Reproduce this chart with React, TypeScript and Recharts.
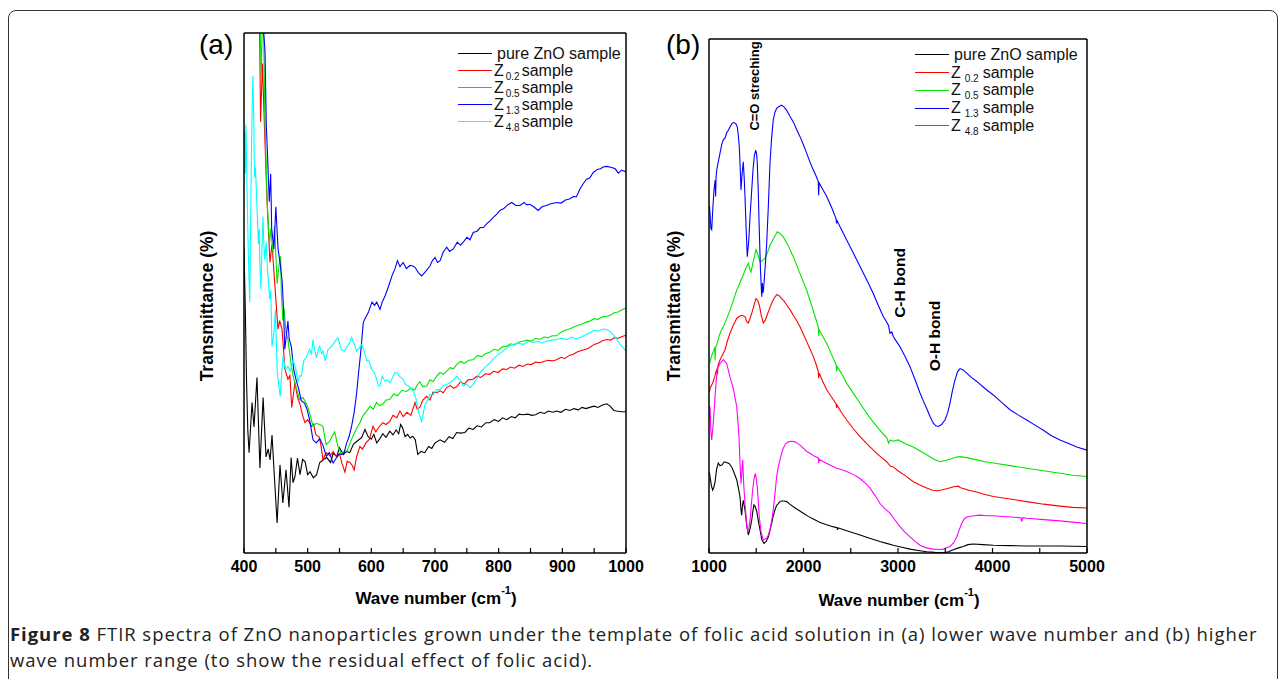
import { LineChart, Line, XAxis, YAxis } from 'recharts';

type Pt = [number, number];

// tick positions (wave number in cm-1, transmittance in arbitrary units)
const waveTicksA = [400, 450, 500, 550, 600, 650, 700, 750, 800, 850, 900, 950, 1000];
const waveTicksB = [1000, 1500, 2000, 2500, 3000, 3500, 4000, 4500, 5000];
const transTicks = [0, 10, 20, 30, 40, 50, 60, 70, 80];

// ---- panel (a): 400-1000 cm-1 ----
const pureA: Pt[] = [
  [400, 50], [402, 40], [404, 28], [406, 20], [408, 16.4], [412.6, 24.6], [415.7, 20.6], [420.4, 28.7], [425, 13.9],
  [430, 25.4], [434.6, 15.7], [438, 17], [441, 15.2], [444, 19.3], [448, 12], [452, 4.9], [456.5, 14.4], [461, 8.2],
  [466, 13.6], [470.7, 7.5], [474, 15.6], [477, 11.5], [480, 12.5], [484, 15.5], [488, 12.8], [492, 15.3], [496, 14.9],
  [500, 12.8], [503.7, 13.3], [509, 12.3], [514, 12.8], [519, 14.8], [524, 15.2], [530, 15.6], [536, 14.8], [540, 16.3],
  [545.6, 15.8], [550, 17.2], [556, 16.1], [561, 16.6], [566, 16.4], [572, 17.8], [578, 18.3], [585, 18.9], [590, 20.2],
  [595, 19], [600, 18.6], [604, 19.4], [608.4, 18], [613, 18.6], [618, 19.5], [623, 18.9], [629, 19.9], [634, 19.3],
  [639, 20.1], [643, 19.5], [646, 21], [649, 20.5], [653, 19], [657, 19.4], [661, 18.8], [665, 19.1], [669, 18.5],
  [673, 16.1], [678, 16.6], [684, 16.4], [690, 17.4], [695, 17.1], [700, 18], [708, 18.5], [715, 18.1], [722, 19],
  [728, 18.7], [734, 19.7], [740, 19.6], [747, 19.7], [753, 20.4], [760, 20.2], [766, 20.8], [773, 20.6], [780, 21.3],
  [786, 21.3], [793, 21.8], [800, 21.5], [806, 22.1], [812.6, 21.8], [820, 22.3], [826, 22.1], [832, 22.7], [838, 22.6],
  [846, 22.7], [852, 22.5], [858, 22.6], [865, 23], [872, 22.8], [878, 23.2], [885, 23], [891, 23.2], [898, 23],
  [905, 23.5], [912, 23.3], [918, 23.6], [925, 23.4], [931, 23.8], [937, 23.6], [943, 23.8], [950, 24], [956, 23.8],
  [963, 24.2], [969.6, 24.4], [975, 24], [981, 23.3], [985, 23.2], [992, 23.1], [1000, 23.1],
];

const z02A: Pt[] = [
  [415, 95], [424.6, 85], [426, 70.5], [429, 80], [432, 70], [436, 58], [440.8, 47.5], [444, 50.5], [447, 46],
  [450, 41.5], [453.4, 36.6], [456, 38], [459.7, 36.6], [464.4, 30], [469, 28.4], [472, 29], [475, 23.8], [480, 27.9],
  [484, 25.5], [488, 24.3], [492, 22.5], [495.8, 21.3], [500, 21.8], [506, 20.7], [509, 21.1], [513, 19.3], [518, 19],
  [521, 17.5], [524, 15.2], [529, 16.4], [535, 15.9], [540, 16.6], [545.6, 15.7], [550, 16.2], [554, 14.6], [558.6, 13.2],
  [562, 15], [566.5, 14.8], [570, 14.3], [573, 13.6], [577, 15.8], [582, 17.4], [586, 17], [591.6, 18], [597, 18.6],
  [602.6, 20.7], [607, 19.8], [612, 20.6], [618, 21.3], [623, 21], [629, 21.5], [634, 22.5], [640, 22.1], [645, 23.2],
  [650, 22.3], [656, 23], [662, 22.5], [668.6, 24.6], [672, 23.5], [676, 23.8], [681, 25], [687, 25.6], [692, 25],
  [697, 26.3], [703, 26.2], [708, 26.5], [713, 26.2], [718, 27], [724, 27.4], [729, 26.9], [734.5, 27.2], [740, 28],
  [746, 27.6], [752, 28.3], [759.7, 28.4], [766, 28.9], [772, 28.7], [779, 29.3], [786, 29.2], [792, 29.7], [799, 29.5],
  [806, 30.1], [812.6, 30], [819, 30.4], [825, 30.2], [832, 30.7], [838, 30.5], [845, 30.9], [851, 30.8], [858, 31.2],
  [865, 31.1], [871, 31.3], [878, 31.5], [884, 31.4], [891, 31.6], [898, 32], [904, 31.8], [911, 32.3], [917, 32.5],
  [924, 32.9], [930, 33.1], [937, 33.3], [943, 33.6], [950, 34.1], [956, 34.3], [963, 34.7], [969.6, 34.9], [976, 34.8],
  [982, 35.2], [988, 35.1], [994, 35.4], [1000, 35.6],
];

const z05A: Pt[] = [
  [418, 95], [422, 85], [425, 88], [427, 78], [429, 88], [431, 84], [433, 70], [436.6, 57], [440, 50.5], [442, 53],
  [445.5, 49], [448, 53.4], [452, 44], [455, 47], [457.6, 48.5], [458.6, 42.6], [461, 38], [463, 40], [466, 36],
  [469, 34.9], [474.3, 30.5], [478, 28.5], [482, 27], [487.4, 25.1], [492.7, 25.4], [496, 24.8], [500.5, 23.8], [504, 22.5],
  [508.4, 20.7], [513, 21.2], [518.9, 21], [524, 20.7], [529, 17.7], [534, 18.2], [538, 19], [542.4, 19.8], [547.6, 17.4],
  [553.4, 16.1], [557, 16.6], [562, 16.7], [566, 17.8], [571, 19.1], [576, 20.2], [582, 21.3], [587, 22.5], [592, 23.1],
  [598, 24], [603, 23.5], [608, 24.6], [613, 24.1], [618, 24.3], [623, 25], [629, 25.1], [635, 26], [641, 25.7],
  [648, 26.6], [655.5, 26.4], [662, 27], [668, 26.6], [671, 27.3], [676, 28], [681, 27.2], [687, 27.3], [692, 28.3],
  [697, 28], [702.6, 28.9], [708, 29.5], [713, 29.2], [718, 29.7], [724, 30.3], [729, 30.1], [734, 30.8], [740, 31.3],
  [746, 31], [753, 31.5], [760, 31.6], [767, 32.3], [773, 32.1], [780, 32.6], [786, 32.8], [793, 33.3], [799, 33.1],
  [806, 33.7], [812.6, 33.8], [819, 34.2], [825, 34], [832, 34.5], [838, 34.6], [845, 34.8], [851, 34.6], [858, 35.1],
  [865, 34.9], [871, 35.3], [878, 35.2], [884, 35.5], [891, 35.5], [898, 36.1], [904, 36.4], [911, 36.6], [917, 36.9],
  [924, 37.2], [930, 37.4], [937, 37.7], [943, 37.9], [950, 38.3], [956, 38.2], [963, 38.6], [969.6, 38.7], [976, 38.9],
  [982, 39.3], [988, 39.4], [994, 39.8], [1000, 40],
];

const z13A: Pt[] = [
  [426, 95], [431, 85], [433, 82], [435, 70], [437, 65], [439.7, 57.4], [441.9, 62], [443.5, 53], [447, 49.7],
  [450, 56.6], [453.5, 49.7], [457, 47.2], [460, 44.3], [462, 40], [464, 33.3], [467, 36], [469, 37.9], [471, 35],
  [474.4, 33.7], [478, 30], [482, 28.2], [486, 26.8], [490, 24.9], [495, 24.5], [499, 23.5], [503, 21.8], [508.4, 18.5],
  [513.6, 18], [519, 18.7], [524, 17.6], [529.3, 15.8], [534, 16.4], [540, 14.7], [545.4, 15.6], [550, 16.2], [553.4, 16.1],
  [557, 16.3], [561.3, 18], [565, 19], [569, 20.7], [573, 23], [577, 26.2], [580, 29.5], [583.3, 32.8], [587.4, 37.7],
  [591, 38.5], [595.2, 39.3], [601, 41], [605, 40.5], [608.4, 41], [613.6, 39.8], [617, 41], [621.5, 42], [625, 43],
  [629.3, 44.3], [633, 45.5], [637, 46.4], [641, 47.8], [645, 46.8], [650, 47.5], [655, 46.5], [660.7, 47], [665, 46.9],
  [668.6, 46.7], [674, 45.8], [679, 45.3], [685, 46], [692, 46.9], [696, 47.8], [700, 48.3], [704, 47.5], [708, 47.8],
  [713, 49.2], [718.4, 50], [723, 49.3], [728.7, 49.7], [735, 50.8], [740, 50.3], [744.4, 50.8], [750, 51.6], [755, 51.2],
  [760, 52.4], [766, 52.6], [771, 53.2], [776, 53.2], [781, 53.8], [786.4, 54.3], [792, 54.9], [797, 55.4], [802, 56],
  [808, 56.3], [814, 56.9], [820.5, 57.3], [827, 56.8], [833.5, 56.8], [840, 57.3], [844, 56.9], [849, 57], [855, 56.6],
  [862, 56], [868, 56.6], [875, 56.8], [882, 57.1], [891, 57.3], [898, 57.2], [905, 57.7], [912, 57.9], [918, 58.3],
  [922, 58.2], [927.7, 59.5], [933, 60.4], [938, 61.1], [943, 61.3], [948.6, 62.2], [955, 62.7], [960, 62.8], [964, 63.1],
  [970, 63.2], [977.5, 63], [983, 62.8], [988, 62.1], [993, 62.6], [1000, 62.3],
];

const z48A: Pt[] = [
  [400, 62], [401, 69], [402, 62], [403, 70], [405, 58], [407, 48], [409, 41], [410.5, 55], [412, 68], [414, 78],
  [415.5, 70], [416.5, 61.4], [418, 63], [419, 60.3], [421, 55], [422.7, 50.5], [424, 53], [425, 47], [426.6, 43.1],
  [428, 49], [429.8, 55], [431, 51], [432.5, 48], [435, 50.8], [437, 46], [440.4, 41.5], [442, 43], [444, 33.8],
  [447, 36], [449.2, 39.8], [452.3, 29.5], [455, 27], [457, 25.6], [459, 29], [461.3, 32.2], [465, 30], [469, 30.5],
  [473, 29.8], [477, 31.6], [481, 30.2], [484.8, 27.9], [487, 29], [490, 28.9], [494, 31.5], [497.9, 32], [503, 33.3],
  [506, 32.5], [508.4, 34.9], [511, 33.2], [513.6, 31.9], [517, 33.3], [519, 33.8], [522, 32.6], [524, 33], [527.7, 31.4],
  [532, 33.3], [536, 33.6], [539.8, 34.1], [543, 34.6], [547.6, 35.2], [550, 34.3], [552.8, 33.3], [558, 33], [562, 33.8],
  [566, 34.3], [569, 35.2], [573, 34.2], [577, 33], [581, 33.5], [585, 34.1], [589, 32.9], [592.7, 31.4], [596, 31.5],
  [600.6, 30], [604, 29.6], [608.4, 28.4], [611, 27.3], [613.6, 27.3], [617, 28.9], [621.5, 28.1], [625, 28.3],
  [629.3, 27.8], [633, 28.6], [637, 29.5], [641, 29.4], [645, 28.8], [650, 28.4], [654, 27.5], [658, 27.3], [662, 27],
  [666, 26.4], [670, 25.3], [673.8, 23.2], [676, 22.4], [679, 21.5], [681, 22.5], [684.3, 24.3], [688, 24.9], [692, 25.9],
  [697, 25.8], [702.7, 26.7], [708, 26.7], [713, 27.4], [718.4, 27.5], [724, 27.9], [729, 28.3], [734, 28.9], [739, 28.3],
  [744.4, 27.3], [750, 27.6], [755, 27], [760, 27.5], [765, 28.4], [770.7, 29.5], [778, 30.3], [786.4, 31.1], [793, 31.9],
  [800, 32.5], [807, 33], [815, 33.7], [823, 34.1], [830, 34.3], [838.7, 34.1], [846, 34.6], [854.4, 34.4], [862, 34.6],
  [868, 34.3], [875.4, 34.6], [883, 34.8], [891, 34.9], [898, 35.1], [907, 34.9], [915, 35.3], [921, 35], [927.7, 35.2],
  [935, 35.6], [943.4, 36], [950, 36.4], [957, 36.3], [964.3, 36.6], [970, 36.5], [975, 36.2], [980, 35.7], [985, 35],
  [990, 34.2], [995, 33.6], [1000, 33],
];

// ---- panel (b): 1000-5000 cm-1 ----
const pureB: Pt[] = [
  [1005, 12.5], [1010.6, 11.9], [1025, 10.5], [1039, 9.8], [1050, 10.2], [1063.5, 11], [1080, 13], [1098, 14],
  [1115, 13.6], [1137.6, 13.7], [1160, 14.2], [1187, 14.1], [1215, 13.9], [1240, 13.4], [1265, 12.5], [1293, 11.4],
  [1310, 10.2], [1328, 8.8], [1338, 6.8], [1346, 5.9], [1355, 7.5], [1363, 8.2], [1372, 7.4], [1381, 6.7], [1398, 4.5],
  [1416, 2.8], [1435, 3.8], [1452, 5.1], [1465, 6.6], [1476, 7.5], [1490, 7.2], [1505, 6.5], [1522, 5], [1540, 3.6],
  [1560, 2], [1582, 1.5], [1605, 1.8], [1627.5, 2.5], [1645, 3.5], [1663.5, 4.6], [1680, 5.8], [1698, 6.7], [1715, 7.4],
  [1733, 7.7], [1750, 8], [1769, 8.1], [1795, 8.1], [1822, 8], [1855, 7.6], [1892, 7.2], [1945, 6.7], [1998, 6.2],
  [2050, 5.7], [2104, 5.3], [2170, 4.8], [2245, 4.4], [2310, 4.1], [2355, 3.95], [2360, 3.6], [2365, 3.9], [2386, 3.8],
  [2490, 3.3], [2598, 2.8], [2700, 2.3], [2809, 1.8], [2880, 1.5], [2950, 1.2], [3040, 0.9], [3127, 0.6], [3215, 0.4],
  [3304, 0.2], [3390, 0.1], [3479, 0.05], [3535, 0.2], [3585, 0.5], [3640, 0.8], [3691, 1], [3740, 1.3], [3797, 1.4],
  [3900, 1.3], [4008, 1.2], [4180, 1.15], [4362, 1.1], [4540, 1.1], [4714, 1.1], [4850, 1.05], [5000, 1],
];

const z02B: Pt[] = [
  [1005, 25], [1010.6, 25.6], [1040, 26.5], [1060, 27.4], [1075, 28.3], [1081.5, 28.5], [1090, 27.8], [1095, 29.2],
  [1110, 29.8], [1134, 30.6], [1169, 31.6], [1195, 33], [1222, 34.2], [1258, 35.5], [1293, 36.5], [1320, 36.8],
  [1346, 37], [1365, 36.9], [1381, 36.8], [1400, 36], [1416, 35.8], [1434, 36.5], [1452, 37.3], [1475, 38.5],
  [1497, 39.6], [1515, 39.3], [1532, 38.6], [1553, 37], [1574.6, 35.8], [1594, 36.2], [1614, 37], [1640, 38],
  [1663.5, 38.9], [1690, 39.7], [1716.4, 40.2], [1740, 40.1], [1769, 39.6], [1795, 39.2], [1822, 38.6], [1860, 37.8],
  [1892, 37], [1930, 36.1], [1963, 35.2], [2000, 34], [2034, 32.9], [2070, 31.7], [2103.7, 30.6], [2135, 29.3],
  [2156.6, 28.2], [2161, 27.2], [2167, 28], [2200, 26.8], [2245.5, 25.4], [2300, 24.2], [2345, 23.2], [2350, 22.6],
  [2356, 23], [2400, 21.9], [2457, 20.7], [2530, 19.3], [2598, 18.1], [2690, 16.7], [2774.6, 15.5], [2830, 14.8],
  [2880, 14.2], [2920, 13.5], [2950, 13.4], [3000, 12.8], [3080, 12], [3162, 11.1], [3230, 10.6], [3304, 10.1],
  [3360, 9.8], [3410, 9.7], [3460, 9.8], [3515, 10], [3590, 10.3], [3640, 10.4], [3656, 10.2], [3740, 9.8], [3833, 9.5],
  [3920, 9.1], [4008, 8.8], [4185, 8.4], [4362, 8], [4540, 7.6], [4714, 7.3], [4850, 7.1], [5000, 7],
];

const z05B: Pt[] = [
  [1005, 29.5], [1010.6, 29.8], [1030, 30.8], [1050, 31.5], [1060, 32], [1065, 30], [1068, 32], [1081.5, 32.4],
  [1100, 33.4], [1125, 34.5], [1151, 35.2], [1185, 36.4], [1222, 37.8], [1260, 39.4], [1293, 40.9], [1320, 41.8],
  [1339, 42.5], [1360, 43.2], [1381, 44], [1400, 44.6], [1416, 45.1], [1430, 44.3], [1444, 43.7], [1470, 45.5],
  [1497, 47.2], [1520, 46.3], [1540, 45.3], [1565, 45.5], [1592.6, 45.9], [1620, 46.8], [1645.5, 47.9], [1685, 49],
  [1722.8, 50], [1755, 49.7], [1786, 49.2], [1840, 47.8], [1892, 46.1], [1960, 43.6], [2034, 40.9], [2095, 38.1],
  [2156.6, 35.2], [2161, 33.8], [2167, 34.7], [2200, 33.8], [2245.5, 32.6], [2300, 30.8], [2345, 29.3], [2350, 28.3],
  [2356, 29], [2400, 28], [2457, 26.4], [2530, 24.8], [2598, 23.3], [2690, 21.3], [2774.6, 19.7], [2850, 18.4],
  [2880, 18], [2900, 17.1], [2915, 17.6], [2950, 17.4], [3000, 17.6], [3080, 17], [3162, 16.5], [3230, 15.9],
  [3304, 15.3], [3380, 14.6], [3444, 14.2], [3500, 14.4], [3550, 14.6], [3610, 14.9], [3656, 15], [3740, 14.8],
  [3833, 14.5], [3920, 14.2], [4008, 14], [4185, 13.6], [4362, 13.2], [4540, 12.8], [4714, 12.4], [4850, 12.1], [5000, 11.9],
];

const z13B: Pt[] = [
  [1005, 54], [1010.6, 52.9], [1020, 50.5], [1028.6, 50.3], [1040, 53.5], [1053, 56.5], [1065, 58], [1070, 55.5],
  [1075, 58.5], [1081.5, 59.6], [1100, 61], [1116, 62.2], [1135, 63.6], [1151, 64.3], [1170, 64.6], [1187, 65.4],
  [1205, 65.8], [1222, 66.3], [1245, 66.9], [1264.5, 67], [1285, 66.8], [1299.5, 66.3], [1310, 65], [1320.6, 63.2],
  [1330, 60], [1338.6, 56.5], [1350, 59], [1363, 60.9], [1372, 58.5], [1381, 55.5], [1393, 50.5], [1405, 46.1],
  [1420, 48.5], [1434, 52.3], [1450, 56], [1465.6, 59.6], [1480, 61.8], [1494, 62.7], [1503, 62.2], [1511, 60.7],
  [1522, 56], [1532, 50.3], [1545, 44], [1557.7, 39.9], [1565, 42], [1570, 40.5], [1576.7, 40.9], [1592, 44],
  [1610.6, 48.2], [1628, 54], [1645.5, 60.7], [1662, 64.5], [1680, 67.4], [1698, 68.6], [1716, 69.2], [1740, 69.5],
  [1769, 69.7], [1795, 69.4], [1822, 68.9], [1855, 68], [1892, 67.1], [1925, 66], [1963, 64.8], [2000, 63.5],
  [2034, 62.2], [2070, 60.8], [2103.7, 59.6], [2130, 58.8], [2156.6, 57.8], [2160, 55.7], [2166, 57.6], [2200, 56.7],
  [2245.5, 55.5], [2300, 53.7], [2345, 52], [2350, 51.3], [2356, 51.7], [2400, 50.4], [2457, 48.7], [2530, 46.6],
  [2598, 44.6], [2670, 42.5], [2738.6, 40.4], [2790, 38.6], [2844, 36.8], [2870, 36.2], [2900, 35.4], [2915, 34.2],
  [2935, 34.4], [2950, 33.7], [2985, 32.9], [3021, 32.1], [3075, 30.6], [3127, 29], [3180, 27], [3233, 24.9],
  [3270, 23.6], [3304, 22.5], [3340, 21.2], [3373.5, 20.2], [3400, 19.8], [3426.5, 19.7], [3460, 20], [3497, 20.7],
  [3525, 21.8], [3550, 23.3], [3575, 25.2], [3603, 26.9], [3630, 28.2], [3656, 28.7], [3690, 28.5], [3727, 28],
  [3780, 27.3], [3833, 26.7], [3920, 25.6], [4008, 24.6], [4100, 23.4], [4185, 22.3], [4270, 21.5], [4362, 20.7],
  [4450, 19.9], [4537.6, 19.1], [4620, 18.3], [4714, 17.6], [4800, 17.1], [4891, 16.5], [5000, 16],
];

const z48B: Pt[] = [
  [1005, 21], [1010.6, 22.8], [1020, 19], [1028.6, 17.6], [1042, 19.6], [1058, 23], [1074, 26.4], [1088, 28.5],
  [1100, 29], [1116, 29.5], [1151, 30.1], [1187, 29.5], [1222, 27.4], [1257, 25.6], [1293, 22.8], [1306, 20.5],
  [1317.5, 18.1], [1328, 14], [1338.6, 10.8], [1347, 12.5], [1356.6, 14.5], [1368, 10.5], [1381, 7.7], [1395, 5],
  [1409.5, 3.3], [1422, 3.8], [1434, 5.1], [1448, 7.5], [1462, 9.8], [1476, 11.5], [1490, 12.4], [1500, 11.6],
  [1511, 10.3], [1522, 8], [1532, 5.6], [1552, 3.2], [1574.6, 2], [1592, 2.2], [1610.6, 2.3], [1628, 2.8], [1645.5, 3.6],
  [1663, 5], [1680, 6.7], [1698, 9.2], [1716.4, 11.9], [1733, 13.4], [1751, 14.5], [1768, 15.5], [1786, 16.3],
  [1810, 17], [1839, 17.3], [1875, 17.4], [1910, 17.3], [1935, 17.1], [1963, 16.8], [2000, 16.3], [2034, 15.8],
  [2080, 15.4], [2122, 15], [2156.6, 14.8], [2160, 14], [2166, 14.6], [2209.5, 14.2], [2280, 13.7], [2351, 13.2],
  [2400, 13], [2457, 12.7], [2530, 12.2], [2598, 11.6], [2650, 10.9], [2704, 10.1], [2760, 8.9], [2809.5, 7.7],
  [2860, 6.9], [2915, 6.2], [2970, 5.1], [3021, 4.1], [3075, 3.2], [3127, 2.5], [3180, 1.8], [3233, 1.2], [3300, 0.8],
  [3373.5, 0.6], [3430, 0.55], [3479, 0.6], [3515, 0.8], [3550, 1], [3590, 1.6], [3621, 2.5], [3648, 3.6], [3674, 4.6],
  [3700, 5.3], [3727, 5.6], [3800, 5.8], [3868, 5.9], [3940, 5.8], [4008, 5.8], [4185, 5.6], [4300, 5.5], [4310, 4.9],
  [4320, 5.5], [4362, 5.4], [4540, 5.2], [4714, 5], [4850, 4.8], [5000, 4.6],
];

const seriesA = [
  { id: 'pureA', main: 'pure ZnO sample', sub: '', color: '#000000', pts: pureA },
  { id: 'z02A', main: 'Z', sub: '0.2', color: '#ff0000', pts: z02A },
  { id: 'z05A', main: 'Z', sub: '0.5', color: '#00e600', pts: z05A },
  { id: 'z13A', main: 'Z', sub: '1.3', color: '#0000ff', pts: z13A },
  { id: 'z48A', main: 'Z', sub: '4.8', color: '#00ffff', pts: z48A },
];

const seriesB = [
  { id: 'pureB', main: 'pure ZnO sample', sub: '', color: '#000000', pts: pureB },
  { id: 'z02B', main: 'Z', sub: '0.2', color: '#ff0000', pts: z02B },
  { id: 'z05B', main: 'Z', sub: '0.5', color: '#00e600', pts: z05B },
  { id: 'z13B', main: 'Z', sub: '1.3', color: '#0000ff', pts: z13B },
  { id: 'z48B', main: 'Z', sub: '4.8', color: '#ff00ff', pts: z48B },
];

const toRows = (pts: Pt[]) => pts.map(([x, y]) => ({ x, y }));

const AXIS_FONT = '"Liberation Sans", Arial, Helvetica, sans-serif';

type Series = typeof seriesA;

// plot box is given in page pixels; the chart surface is built around it
function Panel(props: {
  plotLeft: number; plotTop: number; plotRight: number; plotBottom: number;
  xDomain: [number, number]; xTicks: number[]; labelStep: number;
  yDomain: [number, number]; series: Series;
}) {
  const { plotLeft, plotTop, plotRight, plotBottom, xDomain, xTicks, labelStep, yDomain, series } = props;
  const pad = 20;
  const bottomH = 30;
  const width = plotRight - plotLeft + 2 * pad + 2;
  const height = plotBottom - plotTop + 2 * pad + bottomH + 1;
  const axisLine = { stroke: '#000', strokeWidth: 1.5 };
  const tickLine = { stroke: '#000', strokeWidth: 1.2 };
  return (
    <div style={{ position: 'absolute', left: plotLeft - pad - 1, top: plotTop - pad - 1 }}>
      <LineChart width={width} height={height} margin={{ top: pad, right: pad, bottom: pad, left: pad }}>
        <XAxis xAxisId="bottom" type="number" dataKey="x" domain={xDomain} ticks={xTicks} interval={0}
          allowDataOverflow height={bottomH} tickSize={-5} tickMargin={13} axisLine={axisLine} tickLine={tickLine}
          tickFormatter={(v: number) => (v % labelStep === 0 ? String(v) : '')}
          tick={{ fill: '#000', fontSize: 16, fontWeight: 700, fontFamily: AXIS_FONT }} />
        <XAxis xAxisId="top" orientation="top" type="number" dataKey="x" domain={xDomain} ticks={xTicks}
          interval={0} allowDataOverflow height={1} tickSize={-5} tick={false} axisLine={axisLine} tickLine={tickLine} />
        <YAxis yAxisId="left" type="number" domain={yDomain} ticks={transTicks} interval={0} allowDataOverflow
          width={1} tickSize={-5} tick={false} axisLine={axisLine} tickLine={tickLine} />
        <YAxis yAxisId="right" orientation="right" type="number" domain={yDomain} ticks={transTicks} interval={0}
          allowDataOverflow width={1} tickSize={-5} tick={false} axisLine={axisLine} tickLine={tickLine} />
        {series.map((s) => (
          <Line key={s.id} xAxisId="bottom" yAxisId="left" data={toRows(s.pts)} dataKey="y" type="linear"
            stroke={s.color} strokeWidth={1.1} dot={false} activeDot={false} isAnimationActive={false} />
        ))}
      </LineChart>
    </div>
  );
}

function LegendBox({ left, top, rowH, spaced, series }: {
  left: number; top: number; rowH: number; spaced: boolean; series: Series;
}) {
  return (
    <div style={{ position: 'absolute', left, top, fontFamily: AXIS_FONT, fontSize: 16, color: '#111' }}>
      {series.map((s) => (
        <div key={s.id} style={{ display: 'flex', alignItems: 'center', height: rowH, whiteSpace: 'nowrap' }}>
          <span style={{ display: 'inline-block', width: 34, height: 0, borderTop: `1.5px solid ${s.color}` }} />
          {s.sub ? (
            <span style={{ marginLeft: 2 }}>
              Z
              <span style={{ fontSize: 10, position: 'relative', top: 4, marginLeft: spaced ? 4 : 2 }}>{s.sub}</span>
              <span style={{ marginLeft: spaced ? 4 : 2 }}>sample</span>
            </span>
          ) : (
            <span style={{ marginLeft: 5 }}>{s.main}</span>
          )}
        </div>
      ))}
    </div>
  );
}

const centered = (x: number, y: number, rotate: boolean) => ({
  position: 'absolute' as const,
  left: x,
  top: y,
  transform: `translate(-50%, -50%)${rotate ? ' rotate(-90deg)' : ''}`,
  whiteSpace: 'nowrap' as const,
  lineHeight: 1,
});

function WaveLabel({ x, y }: { x: number; y: number }) {
  return (
    <div style={{ ...centered(x, y, false), fontFamily: AXIS_FONT, fontWeight: 700, fontSize: 17 }}>
      Wave number (cm<sup style={{ fontSize: 11, verticalAlign: 'top', position: 'relative', top: -5 }}>-1</sup>)
    </div>
  );
}

function TransLabel({ x, y }: { x: number; y: number }) {
  return (
    <div style={{ ...centered(x, y, true), fontFamily: AXIS_FONT, fontWeight: 700, fontSize: 17.5 }}>
      Transmittance (%)
    </div>
  );
}

export default function App() {
  return (
    <div style={{ position: 'absolute', left: 0, top: 0, width: 1281, height: 679, overflow: 'hidden', background: '#fff' }}>
      <div style={{ position: 'absolute', left: 8, top: 10, width: 1268, height: 720, border: '1.5px solid #333', borderRadius: 8 }} />

      <Panel plotLeft={244} plotTop={33} plotRight={626} plotBottom={553}
        xDomain={[400, 1000]} xTicks={waveTicksA} labelStep={100} yDomain={[0, 85]} series={seriesA} />
      <Panel plotLeft={709} plotTop={39} plotRight={1087} plotBottom={553}
        xDomain={[1000, 5000]} xTicks={waveTicksB} labelStep={1000} yDomain={[0, 80]} series={seriesB} />

      <div style={{ position: 'absolute', left: 199, top: 31, fontFamily: AXIS_FONT, fontSize: 28, lineHeight: 1 }}>(a)</div>
      <div style={{ position: 'absolute', left: 666, top: 31, fontFamily: AXIS_FONT, fontSize: 28, lineHeight: 1 }}>(b)</div>

      <LegendBox left={458} top={45} rowH={17.1} spaced={false} series={seriesA} />
      <LegendBox left={915} top={46} rowH={17.75} spaced={true} series={seriesB} />

      <TransLabel x={208} y={306} />
      <TransLabel x={675} y={306} />
      <WaveLabel x={436} y={598} />
      <WaveLabel x={899} y={600} />

      <div style={{ ...centered(754, 86, true), fontFamily: AXIS_FONT, fontWeight: 700, fontSize: 13 }}>C=O streching</div>
      <div style={{ ...centered(900, 283, true), fontFamily: AXIS_FONT, fontWeight: 700, fontSize: 15.5 }}>C-H bond</div>
      <div style={{ ...centered(935, 336, true), fontFamily: AXIS_FONT, fontWeight: 700, fontSize: 15.5 }}>O-H bond</div>

      <div style={{ position: 'absolute', left: 10, top: 621, width: 1270, fontFamily: '"Open Sans", sans-serif', fontSize: 18.5, letterSpacing: 0.95, lineHeight: '26px', color: '#222', whiteSpace: 'nowrap' }}>
        <b>Figure 8</b> FTIR spectra of ZnO nanoparticles grown under the template of folic acid solution in (a) lower wave number and (b) higher
        <br />
        wave number range (to show the residual effect of folic acid).
      </div>
    </div>
  );
}
